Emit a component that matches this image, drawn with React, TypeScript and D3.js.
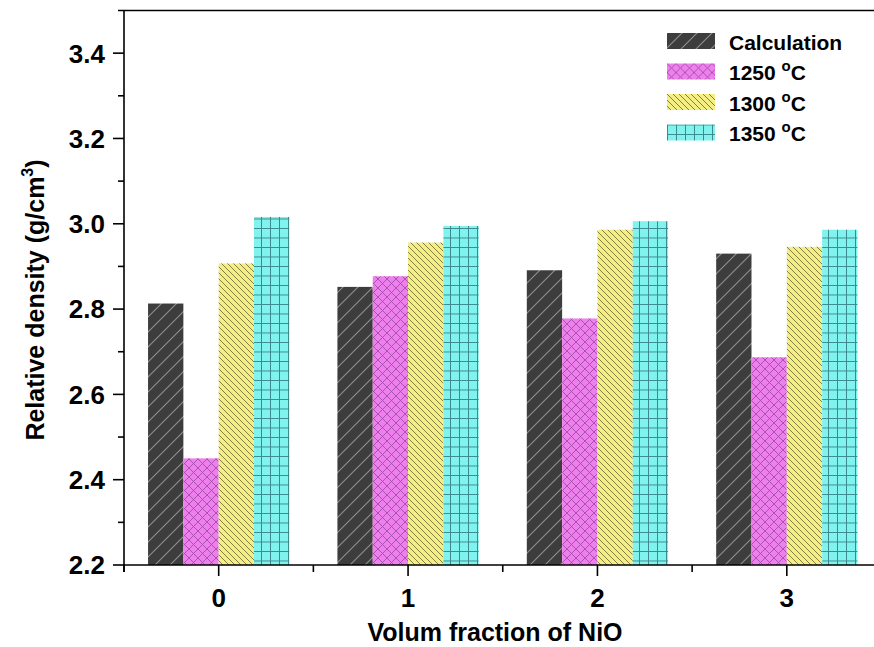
import React from "react";
import * as d3 from "d3";

const categories = [0, 1, 2, 3];
const seriesNames = ["Calculation", "1250", "1300", "1350"];
const calculation = [2.813, 2.852, 2.891, 2.93];
const t1250 = [2.45, 2.877, 2.778, 2.687];
const t1300 = [2.907, 2.956, 2.986, 2.946];
const t1350 = [3.016, 2.995, 3.006, 2.986];
const yTicks = [2.2, 2.4, 2.6, 2.8, 3.0, 3.2, 3.4];
const yMinor = [2.3, 2.5, 2.7, 2.9, 3.1, 3.3];
const xMinor = [-0.5, 0.5, 1.5, 2.5];

const W = 874;
const H = 647;
const FONT = "'Liberation Sans', Arial, sans-serif";

export default function App() {
  const x = d3.scaleLinear().domain([-0.5, 3.5]).range([124, 881.5]);
  const y = d3.scaleLinear().domain([2.2, 3.5]).range([565, 10.5]);
  const series = [calculation, t1250, t1300, t1350];
  const fills = ["url(#pCalc)", "url(#p1250)", "url(#p1300)", "url(#p1350)"];
  const barW = x(0.1865) - x(0);
  const offsets = [-2, -1, 0, 1];

  return (
    <svg width={W} height={H} style={{ position: "absolute", left: 0, top: 0, background: "#fff" }} fontFamily={FONT}>
      <defs>
        <pattern id="pCalc" patternUnits="userSpaceOnUse" width="15" height="15">
          <rect width="15" height="15" fill="#3d3d3d" />
          <path d="M-2,17 L17,-2 M-2,2 L2,-2 M13,17 L17,13" stroke="#8e8e8e" strokeWidth="1.1" />
        </pattern>
        <pattern id="p1250" patternUnits="userSpaceOnUse" width="9" height="9">
          <rect width="9" height="9" fill="#ee80ee" />
          <path d="M0,0 L9,9 M0,9 L9,0" stroke="#a44ca8" strokeWidth="0.9" />
        </pattern>
        <pattern id="p1300" patternUnits="userSpaceOnUse" width="6" height="6">
          <rect width="6" height="6" fill="#f4ef84" />
          <path d="M-1,-1 L7,7 M-1,5 L1,7 M5,-1 L7,1" stroke="#77723e" strokeWidth="0.9" />
        </pattern>
        <pattern id="p1350" patternUnits="userSpaceOnUse" width="9" height="9.5">
          <rect width="9" height="9.5" fill="#80f3ef" />
          <path d="M0.5,0 L0.5,9.5 M0,0.5 L9,0.5" stroke="#3c8a8e" strokeWidth="1" />
        </pattern>
      </defs>

      {/* bars */}
      {series.map((vals, si) =>
        vals.map((v, ci) => (
          <rect
            key={`${si}-${ci}`}
            x={x(categories[ci]) + offsets[si] * barW}
            y={y(v)}
            width={barW}
            height={y(2.2) - y(v)}
            fill={fills[si]}
          />
        ))
      )}

      {/* axes frame */}
      <line x1={118} x2={W} y1={y(3.5)} y2={y(3.5)} stroke="#000" strokeWidth={1.6} />
      <line x1={124} x2={124} y1={y(3.5)} y2={y(2.2) + 7} stroke="#000" strokeWidth={1.6} />
      <line x1={124} x2={W} y1={y(2.2)} y2={y(2.2)} stroke="#000" strokeWidth={1.6} />

      {/* y ticks */}
      {yTicks.map((t) => (
        <g key={t}>
          <line x1={113} x2={124} y1={y(t)} y2={y(t)} stroke="#000" strokeWidth={1.6} />
          <text x={105} y={y(t)} dy="0.36em" textAnchor="end" fontSize={26} fontWeight="bold">
            {d3.format(".1f")(t)}
          </text>
        </g>
      ))}
      {yMinor.map((t) => (
        <line key={t} x1={118} x2={124} y1={y(t)} y2={y(t)} stroke="#000" strokeWidth={1.6} />
      ))}

      {/* x ticks */}
      {categories.map((c) => (
        <g key={c}>
          <line x1={x(c)} x2={x(c)} y1={y(2.2)} y2={y(2.2) + 11} stroke="#000" strokeWidth={1.6} />
          <text x={x(c)} y={607} textAnchor="middle" fontSize={26} fontWeight="bold">
            {c}
          </text>
        </g>
      ))}
      {xMinor.map((c) => (
        <line key={c} x1={x(c)} x2={x(c)} y1={y(2.2)} y2={y(2.2) + 7} stroke="#000" strokeWidth={1.6} />
      ))}

      {/* axis titles */}
      <text x={495} y={641} textAnchor="middle" fontSize={25} fontWeight="bold">
        Volum fraction of NiO
      </text>
      <text transform={`translate(44,300) rotate(-90)`} textAnchor="middle" fontSize={25} fontWeight="bold">
        Relative density (g/cm
        <tspan dy={-11} fontSize={16}>3</tspan>
        <tspan dy={11}>)</tspan>
      </text>

      {/* legend */}
      {seriesNames.map((name, i) => (
        <g key={name} transform={`translate(667,${33 + i * 30.5})`}>
          <rect width={48} height={16} fill={fills[i]} />
          <text x={62} y={16.5} fontSize={21} fontWeight="bold">
            {i === 0 ? (
              name
            ) : (
              <>
                {name + " "}
                <tspan dy={-9} fontSize={15}>o</tspan>
                <tspan dy={9}>C</tspan>
              </>
            )}
          </text>
        </g>
      ))}
    </svg>
  );
}
